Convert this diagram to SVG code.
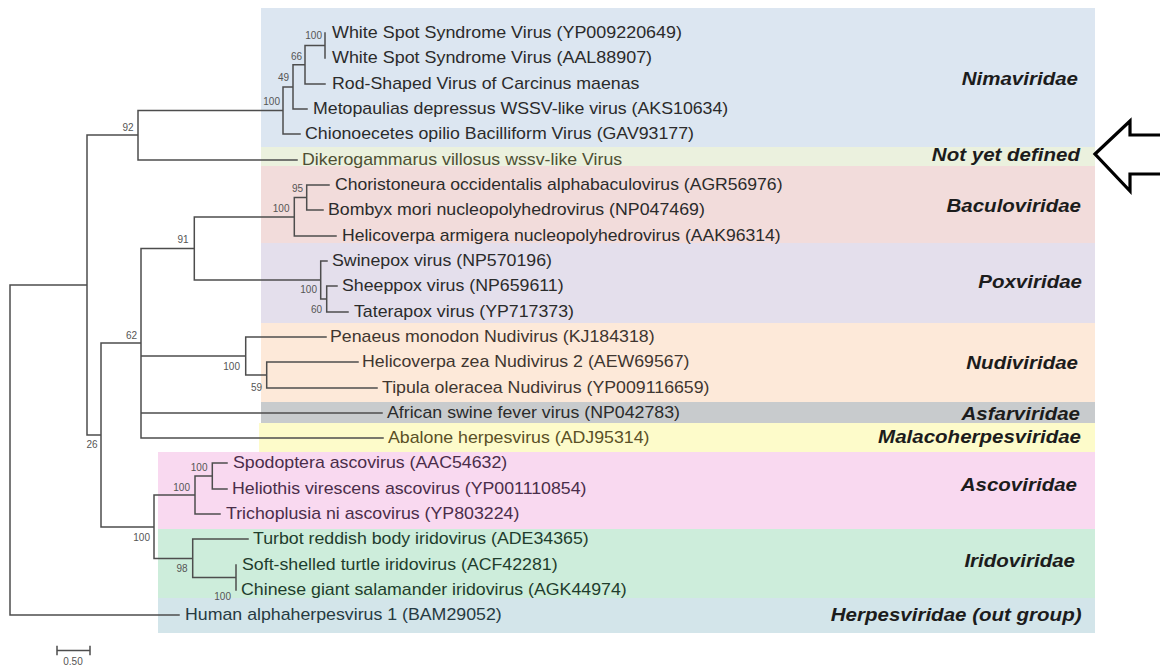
<svg xmlns="http://www.w3.org/2000/svg" width="1160" height="668" viewBox="0 0 1160 668">
  <style>
    .band { stroke: none; }
    .branch { fill: none; stroke: #4d4d4d; stroke-width: 1.5; stroke-linecap: square; }
    .leaf { font-family: "Liberation Sans", Arial, sans-serif; font-size: 16px; fill: #2b2b2b; }
    .boot { font-family: "Liberation Sans", Arial, sans-serif; font-size: 10px; fill: #555; text-anchor: end; }
    .fam { font-family: "Liberation Sans", Arial, sans-serif; font-size: 19px; font-weight: bold; font-style: italic; fill: #1c1c1c; text-anchor: end; }
    .t-olive { fill: #4f4f33; }
    .t-brown { fill: #3f3630; }
    .t-abal { fill: #5a5026; }
    .t-asco { fill: #4a2d4a; }
    .t-irid { fill: #1f3d2d; }
    .t-herp { fill: #263a42; }
    .scale { font-family: "Liberation Sans", Arial, sans-serif; font-size: 10px; fill: #555; text-anchor: middle; }
  </style>

  <rect width="1160" height="668" fill="#ffffff"/>

  <!-- family bands -->
  <g id="family-nimaviridae">
    <rect class="band" x="261" y="8" width="834" height="139" fill="#dce6f1"/>
    <text class="fam" transform="translate(1078 84.5) scale(1.08 1)">Nimaviridae</text>
  </g>
  <g id="family-not-yet-defined">
    <rect class="band" x="261" y="147" width="834" height="19" fill="#ebf1de"/>
    <text class="fam" transform="translate(1080 160.7) scale(1.08 1)">Not yet defined</text>
  </g>
  <g id="family-baculoviridae">
    <rect class="band" x="261" y="166" width="834" height="77" fill="#f2dcdb"/>
    <text class="fam" transform="translate(1081 211.7) scale(1.08 1)">Baculoviridae</text>
  </g>
  <g id="family-poxviridae">
    <rect class="band" x="261" y="243" width="834" height="80" fill="#e4dfec"/>
    <text class="fam" transform="translate(1082 288.3) scale(1.08 1)">Poxviridae</text>
  </g>
  <g id="family-nudiviridae">
    <rect class="band" x="261" y="323" width="834" height="79" fill="#fde9d9"/>
    <text class="fam" transform="translate(1078 369.3) scale(1.08 1)">Nudiviridae</text>
  </g>
  <g id="family-asfarviridae">
    <rect class="band" x="261" y="402" width="834" height="21" fill="#c8cbcd"/>
    <text class="fam" transform="translate(1080 420) scale(1.08 1)">Asfarviridae</text>
  </g>
  <g id="family-malacoherpesviridae">
    <rect class="band" x="259" y="423" width="836" height="29" fill="#fdfbca"/>
    <text class="fam" transform="translate(1081 443.3) scale(1.08 1)">Malacoherpesviridae</text>
  </g>
  <g id="family-ascoviridae">
    <rect class="band" x="158" y="452" width="937" height="77" fill="#f9d9f0"/>
    <text class="fam" transform="translate(1077 491) scale(1.08 1)">Ascoviridae</text>
  </g>
  <g id="family-iridoviridae">
    <rect class="band" x="158" y="529" width="937" height="69" fill="#cdeddb"/>
    <text class="fam" transform="translate(1075 566.7) scale(1.08 1)">Iridoviridae</text>
  </g>
  <g id="family-herpesviridae">
    <rect class="band" x="158" y="598" width="937" height="35" fill="#d3e5ea"/>
    <text class="fam" transform="translate(1081.5 620.7) scale(1.08 1)">Herpesviridae (out group)</text>
  </g>

  <!-- branches of the tree -->
  <g id="connectors">
    <path class="branch" d="
      M10 285 V615 M10 285 H87 M10 615 H179
      M87 135 V435 M87 135 H138 M87 435 H101
      M138 110.5 V160 M138 110.5 H283 M138 160 H297
      M283 87 V134 M283 87 H293 M283 134 H300
      M293 64.75 V109 M293 64.75 H305 M293 109 H307
      M305 45.5 V84 M305 45.5 H325 M305 84 H325
      M325 33 V58
      M101 343 V527 M101 343 H141 M101 527 H154
      M141 248.5 V438 M141 248.5 H194.3 M141 356 H245.7 M141 413 H382 M141 438 H383
      M194.3 217 V280 M194.3 217 H294.3 M194.3 280 H320.7
      M294.3 197.5 V236 M294.3 197.5 H306.7 M294.3 236 H336
      M306.7 185 V210 M306.7 185 H329 M306.7 210 H323
      M320.7 261 V299 M320.7 261 H327 M320.7 299 H326.7
      M326.7 286 V312 M326.7 286 H337 M326.7 312 H348
      M245.7 337 V375 M245.7 337 H326 M245.7 375 H266.7
      M266.7 362 V388 M266.7 362 H358 M266.7 388 H377
      M154 495 V558.5 M154 495 H195 M154 558.5 H192.7
      M195 476 V514 M195 476 H212.3 M195 514 H220
      M212.3 463 V489 M212.3 463 H227 M212.3 489 H227
      M192.7 539 V577.5 M192.7 539 H248 M192.7 577.5 H236
      M236 565 V590"/>
  </g>

  <!-- bootstrap support values -->
  <g id="bootstrap-values">
    <text class="boot" x="322" y="39.3">100</text>
    <text class="boot" x="302" y="60">66</text>
    <text class="boot" x="289" y="81.3">49</text>
    <text class="boot" x="280" y="105">100</text>
    <text class="boot" x="133.5" y="130.7">92</text>
    <text class="boot" x="303" y="192">95</text>
    <text class="boot" x="289.5" y="212">100</text>
    <text class="boot" x="188.5" y="243">91</text>
    <text class="boot" x="317" y="293">100</text>
    <text class="boot" x="322" y="312.5">60</text>
    <text class="boot" x="137" y="339">62</text>
    <text class="boot" x="240" y="370">100</text>
    <text class="boot" x="262" y="390.5">59</text>
    <text class="boot" x="97.5" y="448">26</text>
    <text class="boot" x="150" y="540.5">100</text>
    <text class="boot" x="190" y="490.5">100</text>
    <text class="boot" x="207.5" y="471">100</text>
    <text class="boot" x="187.5" y="572">98</text>
    <text class="boot" x="231" y="600">100</text>
  </g>

  <!-- leaves -->
  <g id="leaf-wssv-yp009220649"><text class="leaf" transform="translate(332 37.5) scale(1.12 1)">White Spot Syndrome Virus (YP009220649)</text></g>
  <g id="leaf-wssv-aal88907"><text class="leaf" transform="translate(332 62.5) scale(1.12 1)">White Spot Syndrome Virus (AAL88907)</text></g>
  <g id="leaf-rod-shaped"><text class="leaf" transform="translate(332 88.5) scale(1.11 1)">Rod-Shaped Virus of Carcinus maenas</text></g>
  <g id="leaf-metopaulias"><text class="leaf" transform="translate(313 113.5) scale(1.11 1)">Metopaulias depressus WSSV-like virus (AKS10634)</text></g>
  <g id="leaf-chionoecetes"><text class="leaf" transform="translate(305 138.5) scale(1.11 1)">Chionoecetes opilio Bacilliform Virus (GAV93177)</text></g>
  <g id="leaf-dikerogammarus"><text class="leaf t-olive" transform="translate(302 164.5) scale(1.11 1)">Dikerogammarus villosus wssv-like Virus</text></g>
  <g id="leaf-choristoneura"><text class="leaf" transform="translate(335 189.5) scale(1.10 1)">Choristoneura occidentalis alphabaculovirus (AGR56976)</text></g>
  <g id="leaf-bombyx"><text class="leaf" transform="translate(328 214.5) scale(1.11 1)">Bombyx mori nucleopolyhedrovirus (NP047469)</text></g>
  <g id="leaf-helicoverpa-armigera"><text class="leaf" transform="translate(342 240.5) scale(1.10 1)">Helicoverpa armigera nucleopolyhedrovirus (AAK96314)</text></g>
  <g id="leaf-swinepox"><text class="leaf" transform="translate(332 265.5) scale(1.11 1)">Swinepox virus (NP570196)</text></g>
  <g id="leaf-sheeppox"><text class="leaf" transform="translate(342 290.5) scale(1.11 1)">Sheeppox virus (NP659611)</text></g>
  <g id="leaf-taterapox"><text class="leaf" transform="translate(354 316.5) scale(1.11 1)">Taterapox virus (YP717373)</text></g>
  <g id="leaf-penaeus"><text class="leaf t-brown" transform="translate(330 341.5) scale(1.11 1)">Penaeus monodon Nudivirus (KJ184318)</text></g>
  <g id="leaf-helicoverpa-zea"><text class="leaf t-brown" transform="translate(362 366.5) scale(1.11 1)">Helicoverpa zea Nudivirus 2 (AEW69567)</text></g>
  <g id="leaf-tipula"><text class="leaf t-brown" transform="translate(382 392.5) scale(1.11 1)">Tipula oleracea Nudivirus (YP009116659)</text></g>
  <g id="leaf-african-swine-fever"><text class="leaf" fill="#222" transform="translate(387 417.5) scale(1.11 1)">African swine fever virus (NP042783)</text></g>
  <g id="leaf-abalone"><text class="leaf t-abal" transform="translate(388 442.5) scale(1.11 1)">Abalone herpesvirus (ADJ95314)</text></g>
  <g id="leaf-spodoptera"><text class="leaf t-asco" transform="translate(233 467.5) scale(1.11 1)">Spodoptera ascovirus (AAC54632)</text></g>
  <g id="leaf-heliothis"><text class="leaf t-asco" transform="translate(232 493.5) scale(1.11 1)">Heliothis virescens ascovirus (YP001110854)</text></g>
  <g id="leaf-trichoplusia"><text class="leaf t-asco" transform="translate(226 518.5) scale(1.11 1)">Trichoplusia ni ascovirus (YP803224)</text></g>
  <g id="leaf-turbot"><text class="leaf t-irid" transform="translate(253 543.5) scale(1.11 1)">Turbot reddish body iridovirus (ADE34365)</text></g>
  <g id="leaf-soft-shelled-turtle"><text class="leaf t-irid" transform="translate(242 569.5) scale(1.11 1)">Soft-shelled turtle iridovirus (ACF42281)</text></g>
  <g id="leaf-chinese-giant-salamander"><text class="leaf t-irid" transform="translate(241 594.5) scale(1.11 1)">Chinese giant salamander iridovirus (AGK44974)</text></g>
  <g id="leaf-human-alphaherpesvirus"><text class="leaf t-herp" transform="translate(185 619.5) scale(1.11 1)">Human alphaherpesvirus 1 (BAM29052)</text></g>

  <!-- scale bar -->
  <g id="scale-bar">
    <path class="branch" d="M57 650.5 H90 M57 646.5 V654.5 M90 646.5 V654.5"/>
    <text class="scale" x="73" y="665">0.50</text>
  </g>

  <!-- pointer arrow -->
  <g id="pointer-arrow">
    <polygon points="1095,154 1130,121 1130,135 1165,135 1165,174 1130,174 1130,191" fill="#ffffff" stroke="#000000" stroke-width="3.2" stroke-linejoin="miter"/>
  </g>
</svg>
